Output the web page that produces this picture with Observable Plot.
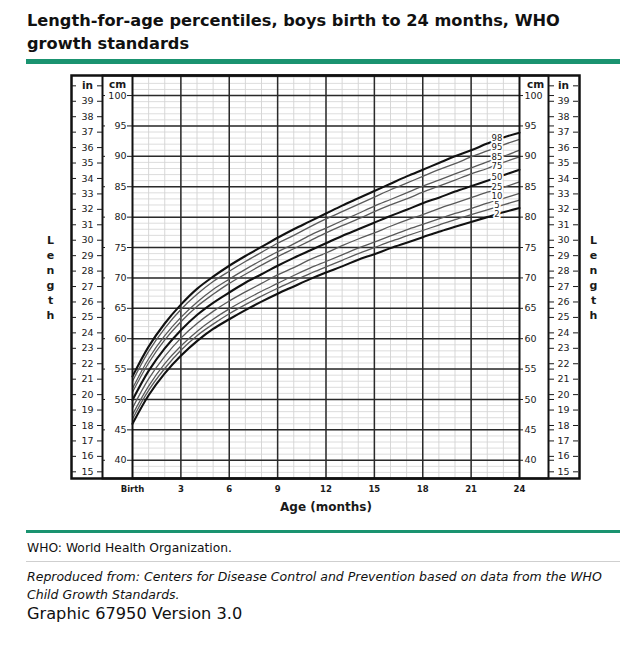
<!DOCTYPE html>
<html>
<head>
<meta charset="utf-8">
<script src="https://cdn.jsdelivr.net/npm/d3@7"></script>
<script src="https://cdn.jsdelivr.net/npm/@observablehq/plot@0.6"></script>
<style>
  html, body { margin: 0; padding: 0; background: #fff; }
  body { width: 640px; height: 659px; position: relative; overflow: hidden;
         font-family: "DejaVu Sans", Verdana, sans-serif; color: #111; }
  #title { position: absolute; left: 27px; top: 9px; width: 590px;
           font-weight: bold; font-size: 16.2px; line-height: 23px; }
  .bar { position: absolute; left: 26px; width: 594px; background: #1a9370; }
  #chart { position: absolute; left: 0; top: 66px; }
  #abbr { position: absolute; left: 27px; top: 541px; font-size: 12.3px; line-height: 15px; }
  #grey { position: absolute; left: 26px; width: 594px; top: 561px; height: 1px; background: #cfcfcf; }
  #src { position: absolute; left: 27px; top: 568px; width: 590px; font-size: 12.5px;
         font-style: italic; line-height: 18px; }
  #ver { position: absolute; left: 27px; top: 604px; font-size: 16.2px; line-height: 20px; }
</style>
</head>
<body>
<div id="title">Length-for-age percentiles, boys birth to 24 months, WHO growth standards</div>
<div class="bar" style="top:59px;height:5px"></div>
<div id="chart"></div>
<div class="bar" style="top:530px;height:3px"></div>
<div id="abbr">WHO: World Health Organization.</div>
<div id="grey"></div>
<div id="src">Reproduced from: Centers for Disease Control and Prevention based on data from the WHO Child Growth Standards.</div>
<div id="ver">Graphic 67950 Version 3.0</div>
<script>
// ---- data (cm), months 0..24 ----
const months = [0,1,2,3,4,5,6,7,8,9,10,11,12,13,14,15,16,17,18,19,20,21,22,23,24];
const p2  = [46.0,50.7,54.3,57.2,59.6,61.6,63.2,64.7,66.1,67.4,68.6,69.8,70.9,71.9,73.0,73.9,74.9,75.8,76.7,77.6,78.4,79.2,80.0,80.8,81.5];
const p5  = [46.8,51.5,55.1,58.1,60.5,62.4,64.1,65.6,67.0,68.3,69.5,70.7,71.8,72.9,74.0,75.0,76.0,76.9,77.8,78.7,79.6,80.4,81.2,82.0,82.8];
const p10 = [47.5,52.2,55.9,58.8,61.2,63.2,64.9,66.4,67.8,69.1,70.4,71.6,72.7,73.8,74.9,75.9,76.9,77.9,78.8,79.7,80.6,81.4,82.3,83.1,83.9];
const p25 = [48.6,53.4,57.1,60.1,62.5,64.5,66.2,67.7,69.1,70.5,71.7,73.0,74.1,75.3,76.4,77.4,78.5,79.5,80.4,81.4,82.3,83.2,84.1,84.9,85.8];
const p50 = [49.9,54.7,58.4,61.4,63.9,65.9,67.6,69.2,70.6,72.0,73.3,74.5,75.7,76.9,78.0,79.1,80.2,81.2,82.3,83.2,84.2,85.1,86.0,86.9,87.8];
const p75 = [51.2,56.0,59.8,62.8,65.3,67.3,69.1,70.6,72.1,73.5,74.8,76.1,77.4,78.6,79.7,80.9,82.0,83.0,84.1,85.1,86.1,87.1,88.0,89.0,89.9];
const p85 = [51.8,56.7,60.5,63.5,66.0,68.1,69.8,71.4,72.9,74.3,75.6,77.0,78.2,79.4,80.6,81.8,82.9,84.0,85.1,86.1,87.1,88.1,89.1,90.0,91.0];
const p95 = [53.0,57.9,61.7,64.8,67.3,69.4,71.1,72.7,74.2,75.7,77.0,78.4,79.7,80.9,82.1,83.3,84.5,85.6,86.7,87.8,88.8,89.9,90.9,91.9,92.8];
const p98 = [53.8,58.7,62.5,65.6,68.2,70.2,72.0,73.6,75.1,76.6,78.0,79.3,80.6,81.9,83.1,84.3,85.5,86.7,87.8,88.9,90.0,91.0,92.1,93.1,93.9];

const seriesNames = ["2","5","10","25","50","75","85","95","98"];
const seriesVals  = [p2,p5,p10,p25,p50,p75,p85,p95,p98];
const boldSeries  = ["2","50","98"];

// curve labels (top to bottom) and their positions
const labelText  = ["98","95","85","75","50","25","10","5","2"];
const labelCm    = [93.0,91.5,89.9,88.4,86.6,84.9,83.5,82.0,80.5];
const labelMonth = 22.6;

// ticks
const xTicks    = [0,3,6,9,12,15,18,21,24];
const xTickText = ["Birth","3","6","9","12","15","18","21","24"];
const cmTicks   = [40,45,50,55,60,65,70,75,80,85,90,95,100];
const inTicks   = [15,16,17,18,19,20,21,22,23,24,25,26,27,28,29,30,31,32,33,34,35,36,37,38,39];
const inHeader  = 40;      // "in" header sits at the 40-inch position
const cmHeader  = 101.8;   // "cm" header position

const rows = [];
seriesNames.forEach((p, i) => months.forEach((m, j) => rows.push({pct: p, month: m, cm: seriesVals[i][j]})));
const labels = labelText.map((t, i) => ({text: t, month: labelMonth, cm: labelCm[i]}));
const inPos = inTicks.map(v => v * 2.54);
const inHeadPos = [inHeader * 2.54];
const inAll = inPos.concat(inHeadPos);

const minorX = d3.range(1, 24);
const minorY = d3.range(38, 104);
const majorX = [3,6,9,12,15,18,21];
const majorY = cmTicks;

const FONT = '"DejaVu Sans", Verdana, sans-serif';
const INK = "#1a1a1a";

const chart = Plot.plot({
  width: 640, height: 459,
  marginLeft: 132, marginRight: 121, marginTop: 9, marginBottom: 47,
  x: {domain: [0, 24]},
  y: {domain: [37.0, 103.3]},
  style: {fontFamily: FONT, color: INK, background: "#fff", overflow: "visible"},
  marks: [
    Plot.gridX(minorX, {stroke: "#cdcdcd", strokeOpacity: 1, strokeWidth: 0.8}),
    Plot.gridY(minorY, {stroke: "#d4d4d4", strokeOpacity: 1, strokeWidth: 0.8}),
    Plot.gridX(majorX, {stroke: "#2a2a2a", strokeOpacity: 1, strokeWidth: 1.5}),
    Plot.gridY(majorY, {stroke: "#2a2a2a", strokeOpacity: 1, strokeWidth: 1.5}),

    Plot.line(rows.filter(d => !boldSeries.includes(d.pct)), {x: "month", y: "cm", z: "pct", stroke: "#5a5a5a", strokeWidth: 1.3, curve: "catmull-rom"}),
    Plot.line(rows.filter(d => boldSeries.includes(d.pct)), {x: "month", y: "cm", z: "pct", stroke: "#111", strokeWidth: 2.1, curve: "catmull-rom"}),

    Plot.text(labels, {x: "month", y: "cm", text: "text", fill: INK, stroke: "white", strokeWidth: 3.5, paintOrder: "stroke", fontSize: 8.5, textAnchor: "middle"}),

    // frame structure
    Plot.frame({stroke: "#111", strokeWidth: 2}),
    Plot.frame({stroke: "#111", strokeWidth: 2, insetLeft: -30, insetRight: -29}),
    Plot.frame({stroke: "#111", strokeWidth: 2.5, insetLeft: -61, insetRight: -60}),

    // left cm column
    Plot.axisY(cmTicks, {anchor: "left", tickSize: 5, tickPadding: 1, fontSize: 9.5, label: null, stroke: INK}),
    Plot.axisY(cmTicks, {anchor: "left", tickSize: 3, dx: -27, fill: "none", label: null, stroke: INK}),
    Plot.axisY([cmHeader], {anchor: "left", tickSize: 0, tickPadding: 0, dx: -15, textAnchor: "middle", fontWeight: "bold", fontSize: 10.5, tickFormat: () => "cm", label: null}),
    // left inch column
    Plot.axisY(inAll, {anchor: "left", tickSize: 5, dx: -30, fill: "none", label: null, stroke: INK}),
    Plot.axisY(inAll, {anchor: "left", tickSize: 5, dx: -56, fill: "none", label: null, stroke: INK}),
    Plot.axisY(inPos, {anchor: "left", tickSize: 0, tickPadding: 0, dx: -45, textAnchor: "middle", fontSize: 9.5, tickFormat: d => String(Math.round(d / 2.54)), label: null}),
    Plot.axisY(inHeadPos, {anchor: "left", tickSize: 0, tickPadding: 0, dx: -45, textAnchor: "middle", fontWeight: "bold", fontSize: 10.5, tickFormat: () => "in", label: null}),

    // right cm column
    Plot.axisY(cmTicks, {anchor: "right", tickSize: 0, tickPadding: 5, fontSize: 9.5, label: null}),
    Plot.axisY(cmTicks, {anchor: "right", tickSize: 3, fill: "none", label: null, stroke: INK}),
    Plot.axisY(cmTicks, {anchor: "right", tickSize: 5, dx: 29, fill: "none", label: null, stroke: INK}),
    Plot.axisY([cmHeader], {anchor: "right", tickSize: 0, tickPadding: 0, dx: 16, textAnchor: "middle", fontWeight: "bold", fontSize: 10.5, tickFormat: () => "cm", label: null}),
    // right inch column
    Plot.axisY(inAll, {anchor: "right", tickSize: 5, dx: 29, fill: "none", label: null, stroke: INK}),
    Plot.axisY(inAll, {anchor: "right", tickSize: 5, dx: 53, fill: "none", label: null, stroke: INK}),
    Plot.axisY(inPos, {anchor: "right", tickSize: 0, tickPadding: 0, dx: 44, textAnchor: "middle", fontSize: 9.5, tickFormat: d => String(Math.round(d / 2.54)), label: null}),
    Plot.axisY(inHeadPos, {anchor: "right", tickSize: 0, tickPadding: 0, dx: 44, textAnchor: "middle", fontWeight: "bold", fontSize: 10.5, tickFormat: () => "in", label: null}),

    // x axis
    Plot.axisX(xTicks, {tickSize: 0, tickPadding: 7, fontWeight: "bold", fontSize: 8.5, tickFormat: d => xTickText[xTicks.indexOf(d)], label: null}),
    Plot.text(["Age (months)"], {frameAnchor: "bottom", dy: 32, fontWeight: "bold", fontSize: 12, fill: INK}),

    // vertical "Length" titles
    Plot.text(["L\ne\nn\ng\nt\nh"], {frameAnchor: "left", dx: -82, fontWeight: "bold", fontSize: 11, lineHeight: 1.36, textAnchor: "middle", fill: INK}),
    Plot.text(["L\ne\nn\ng\nt\nh"], {frameAnchor: "right", dx: 74, fontWeight: "bold", fontSize: 11, lineHeight: 1.36, textAnchor: "middle", fill: INK})
  ]
});
document.getElementById("chart").appendChild(chart);
</script>
</body>
</html>
